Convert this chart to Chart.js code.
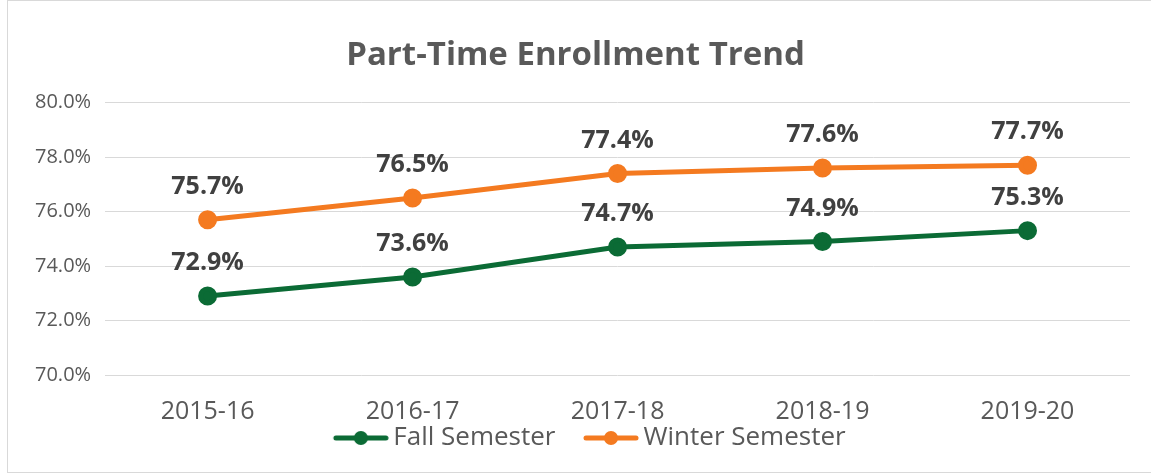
<!DOCTYPE html>
<html>
<head>
<meta charset="utf-8">
<script src="https://cdn.jsdelivr.net/npm/chart.js@4/dist/chart.umd.min.js"></script>
<style>
  html, body { margin: 0; padding: 0; background: #fff; }
  #wrap { position: relative; height: 473px; box-sizing: border-box; border: 1px solid #d9d9d9; border-right: none; margin-left: 7px; width: 1144px; }
</style>
</head>
<body>
<div id="wrap"><canvas id="chartCanvas"></canvas></div>
<script>
// Data
const categories = ['2015-16', '2016-17', '2017-18', '2018-19', '2019-20'];
const fallSemester = [72.9, 73.6, 74.7, 74.9, 75.3];
const winterSemester = [75.7, 76.5, 77.4, 77.6, 77.7];
const yTicks = [70, 72, 74, 76, 78, 80];

const GREEN = '#0B6B35';
const ORANGE = '#F47A20';
const FONT = "'Open Sans', sans-serif";

// legend marker: line with dot (left part of the canvas left empty on purpose, acts as spacing)
function legendMarker(color) {
    const c = document.createElement('canvas');
    c.width = 92; c.height = 16;
    const g = c.getContext('2d');
    g.strokeStyle = color; g.lineWidth = 5; g.lineCap = 'round';
    g.beginPath(); g.moveTo(39, 8); g.lineTo(89, 8); g.stroke();
    g.fillStyle = color;
    g.beginPath(); g.arc(64, 8, 7, 0, Math.PI * 2); g.fill();
    return c;
}

// value labels above points
const valueLabels = {
    id: 'valueLabels',
    afterDatasetsDraw(chart) {
        const ctx = chart.ctx;
        ctx.save();
        ctx.font = "bold 25px " + FONT;
        ctx.fillStyle = '#404040';
        ctx.textAlign = 'center';
        ctx.textBaseline = 'middle';
        chart.data.datasets.forEach((ds, i) => {
            chart.getDatasetMeta(i).data.forEach((pt, j) => {
                ctx.fillText(ds.data[j].toFixed(1) + '%', pt.x, pt.y - 33);
            });
        });
        ctx.restore();
    }
};

const ctx = document.getElementById('chartCanvas').getContext('2d');
new Chart(ctx, {
    type: 'line',
    data: {
        labels: categories,
        datasets: [{
            label: 'Fall Semester',
            data: fallSemester,
            borderColor: GREEN,
            backgroundColor: GREEN,
            borderWidth: 5,
            pointRadius: 7,
            pointHoverRadius: 7
        }, {
            label: 'Winter Semester',
            data: winterSemester,
            borderColor: ORANGE,
            backgroundColor: ORANGE,
            borderWidth: 5,
            pointRadius: 7,
            pointHoverRadius: 7
        }]
    },
    options: {
        responsive: true,
        maintainAspectRatio: false,
        animation: false,
        layout: { padding: { left: 13, right: 21, top: 35, bottom: 11 } },
        plugins: {
            title: {
                display: true,
                text: 'Part-Time Enrollment Trend',
                color: '#595959',
                font: { family: FONT, size: 33, weight: 'bold' },
                padding: { top: 0, bottom: 27 }
            },
            legend: {
                position: 'bottom',
                labels: {
                    usePointStyle: true,
                    pointStyleWidth: 75,
                    color: '#595959',
                    font: { family: FONT, size: 26 },
                    padding: 0,
                    generateLabels(chart) {
                        return chart.data.datasets.map((ds, i) => ({
                            text: ds.label,
                            pointStyle: legendMarker(ds.borderColor),
                            fontColor: '#595959',
                            datasetIndex: i,
                            lineWidth: 0,
                            hidden: false
                        }));
                    }
                }
            },
            tooltip: { enabled: false }
        },
        scales: {
            x: {
                offset: true,
                grid: { display: false, drawTicks: false },
                border: { display: false },
                ticks: { color: '#595959', font: { family: FONT, size: 25 }, padding: 22 },
                afterFit(axis) { axis.height -= 24; }
            },
            y: {
                min: 70, max: 80,
                afterBuildTicks(axis) { axis.ticks = yTicks.map(v => ({ value: v })); },
                grid: { color: '#d9d9d9', lineWidth: 1, drawTicks: false },
                border: { display: false },
                ticks: {
                    color: '#595959',
                    font: { family: FONT, size: 20 },
                    padding: 14,
                    callback: v => v.toFixed(1) + '%'
                }
            }
        }
    },
    plugins: [valueLabels]
});
</script>
</body>
</html>
